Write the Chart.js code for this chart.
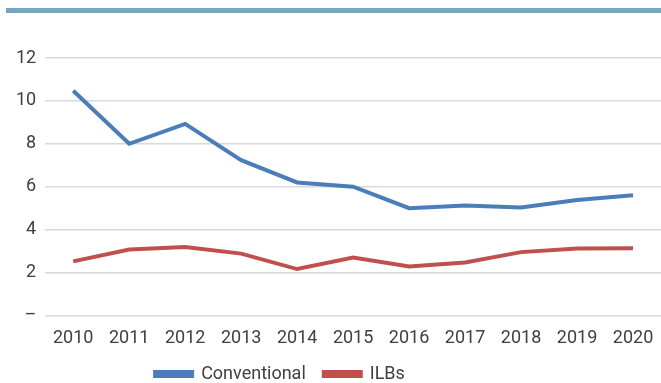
<!DOCTYPE html>
<html>
<head>
<meta charset="utf-8">
<script src="https://cdn.jsdelivr.net/npm/chart.js@4"></script>
<style>
    body { margin: 0; background: #ffffff; }
    .wrap { position: relative; width: 661px; height: 383px; }
    .barra-topo { position: absolute; left: 6px; right: 0; top: 8px; height: 5px; background: #78a6c0; }
</style>
</head>
<body>
<div class="wrap">
    <div class="barra-topo"></div>
    <canvas id="grafico" width="661" height="383"></canvas>
</div>
<script>
const anos = ["2010", "2011", "2012", "2013", "2014", "2015", "2016", "2017", "2018", "2019", "2020"];
const convencional = [10.47, 8.0, 8.93, 7.24, 6.2, 6.0, 5.0, 5.12, 5.03, 5.38, 5.6];
const ilbs = [2.52, 3.07, 3.19, 2.88, 2.16, 2.7, 2.28, 2.47, 2.95, 3.12, 3.13];
const ticksY = [0, 2, 4, 6, 8, 10, 12];

const fonte = "'Roboto', sans-serif";
const corTexto = "#404040";

// a legenda fica um pouco à esquerda do centro e mais perto do eixo
const deslocarLegenda = {
    id: "deslocarLegenda",
    afterLayout(chart) {
        const legenda = chart.legend;
        legenda.left -= 54;
        legenda.right -= 54;
        legenda.top -= 6;
        legenda.bottom -= 6;
    }
};

const ctx = document.getElementById("grafico");

new Chart(ctx, {
    type: "line",
    data: {
        labels: anos,
        datasets: [{
            label: "Conventional",
            data: convencional,
            borderColor: "#4a7ebb",
            backgroundColor: "#4a7ebb",
            borderWidth: 4,
            pointRadius: 0,
            tension: 0
        }, {
            label: "ILBs",
            data: ilbs,
            borderColor: "#c0504d",
            backgroundColor: "#c0504d",
            borderWidth: 4,
            pointRadius: 0,
            tension: 0
        }]
    },
    plugins: [deslocarLegenda],
    options: {
        responsive: false,
        animation: false,
        layout: {
            padding: { top: 58, right: 0, left: 7, bottom: -16 }
        },
        plugins: {
            legend: {
                position: "bottom",
                labels: {
                    boxWidth: 37,
                    boxHeight: 4,
                    padding: 18,
                    color: corTexto,
                    font: { family: fonte, size: 18 }
                }
            },
            tooltip: { enabled: false }
        },
        scales: {
            x: {
                offset: true,
                grid: { display: false },
                border: { display: false },
                ticks: {
                    color: corTexto,
                    padding: 4,
                    maxRotation: 0,
                    font: { family: fonte, size: 18 }
                }
            },
            y: {
                min: 0,
                max: 12,
                afterBuildTicks: escala => {
                    escala.ticks = ticksY.map(v => ({ value: v }));
                },
                grid: {
                    color: "#d9d9d9",
                    lineWidth: 1.5,
                    drawTicks: false
                },
                border: { display: false },
                ticks: {
                    color: corTexto,
                    padding: 9,
                    font: { family: fonte, size: 18 },
                    callback: valor => valor === 0 ? "–" : valor
                }
            }
        }
    }
});
</script>
</body>
</html>
